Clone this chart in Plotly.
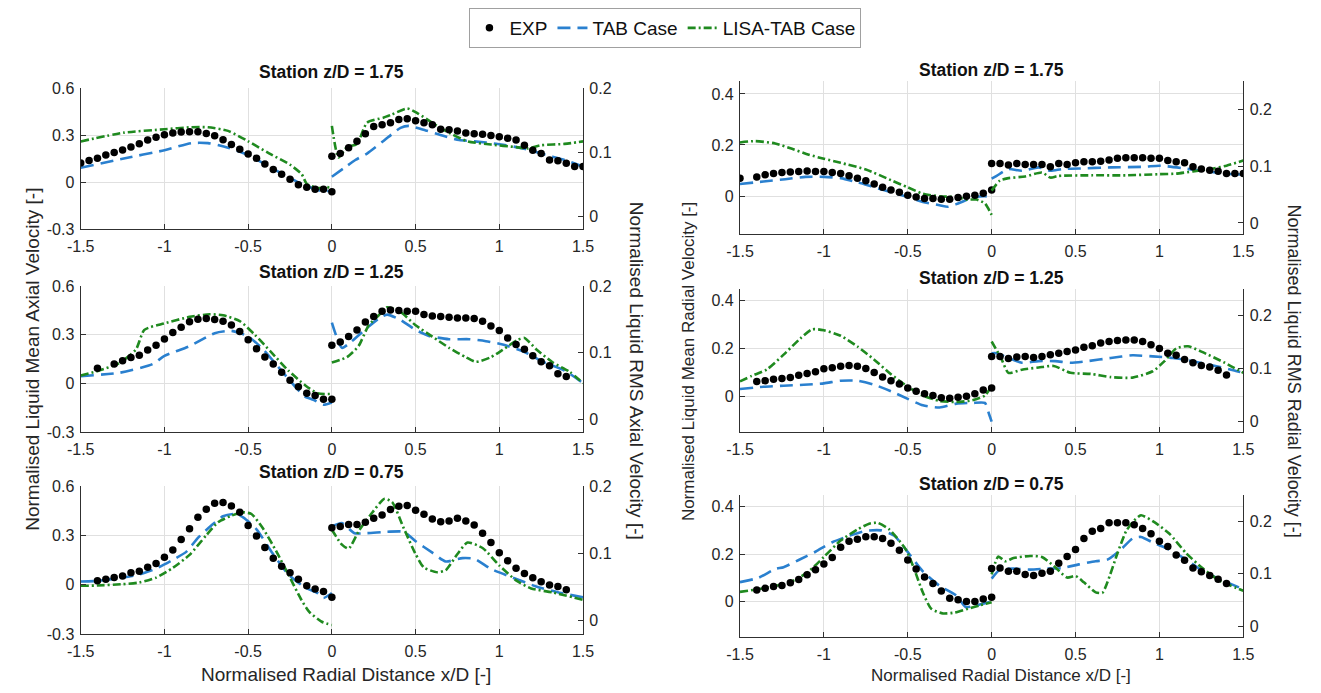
import numpy as np
import plotly.graph_objects as go

W, H = 1321, 693

# ---------------- DATA ----------------
def srange(a, b, n):
    return [round(a + i * 0.05, 2) for i in range(n)]

# Panel A: axial, z/D = 1.75
A_exp_mean_x = srange(-1.5, 0, 31)
A_exp_mean_y = [0.122, 0.139, 0.153, 0.173, 0.189, 0.206, 0.224, 0.245, 0.269, 0.286, 0.302, 0.314, 0.320, 0.322, 0.322, 0.310,
                0.296, 0.271, 0.241, 0.210, 0.180, 0.153, 0.116, 0.082, 0.051, 0.020, -0.016, -0.031, -0.045, -0.045, -0.061]
A_tab_mean_x = [-1.5, -1.25, -1.0, -0.84, -0.74, -0.62, -0.5, -0.375, -0.275, -0.18, -0.08, 0.0]
A_tab_mean_y = [0.092, 0.15, 0.204, 0.249, 0.249, 0.22, 0.173, 0.10, 0.041, -0.01, -0.05, -0.057]
A_lisa_mean_x = [-1.5, -1.24, -1.0, -0.84, -0.74, -0.62, -0.5, -0.375, -0.25, -0.18, -0.15, -0.08, -0.03, 0.0]
A_lisa_mean_y = [0.26, 0.316, 0.337, 0.35, 0.35, 0.327, 0.261, 0.184, 0.112, 0.051, -0.01, -0.037, -0.03, -0.045]
A_exp_rms_x = srange(0, 1.5, 31)
A_exp_rms_y = [0.094, 0.098, 0.107, 0.117, 0.129, 0.140, 0.143, 0.146, 0.151, 0.152, 0.149, 0.146, 0.143, 0.136, 0.135, 0.133,
               0.130, 0.129, 0.128, 0.126, 0.124, 0.122, 0.119, 0.111, 0.103, 0.098, 0.088, 0.087, 0.083, 0.078, 0.078]
A_tab_rms_x = [0, 0.07, 0.14, 0.21, 0.31, 0.41, 0.46, 0.56, 0.66, 0.76, 0.85, 0.99, 1.14, 1.29, 1.39, 1.5]
A_tab_rms_y = [0.062, 0.075, 0.088, 0.098, 0.118, 0.138, 0.141, 0.134, 0.126, 0.119, 0.117, 0.113, 0.106, 0.095, 0.088, 0.078]
A_lisa_rms_x = [0, 0.04, 0.09, 0.15, 0.21, 0.31, 0.36, 0.45, 0.51, 0.61, 0.71, 0.81, 0.95, 1.1, 1.17, 1.25, 1.39, 1.5]
A_lisa_rms_y = [0.141, 0.092, 0.108, 0.113, 0.146, 0.154, 0.159, 0.168, 0.161, 0.144, 0.129, 0.117, 0.112, 0.108, 0.106, 0.111, 0.113, 0.117]

# Panel B: axial, z/D = 1.25
B_exp_mean_x = [-1.4] + srange(-1.3, 0, 27)
B_exp_mean_y = [0.094, 0.12, 0.14, 0.16, 0.174, 0.206, 0.236, 0.274, 0.314, 0.346, 0.38, 0.396, 0.40, 0.394, 0.384, 0.36,
                0.32, 0.27, 0.214, 0.164, 0.12, 0.07, 0.02, -0.02, -0.06, -0.074, -0.096, -0.096]
B_tab_mean_x = [-1.5, -1.27, -1.07, -1.0, -0.85, -0.7, -0.6, -0.5, -0.41, -0.31, -0.21, -0.16, -0.11, -0.05, 0]
B_tab_mean_y = [0.046, 0.066, 0.12, 0.17, 0.23, 0.31, 0.324, 0.29, 0.21, 0.09, -0.03, -0.08, -0.10, -0.13, -0.116]
B_lisa_mean_x = [-1.5, -1.39, -1.27, -1.17, -1.12, -1.0, -0.85, -0.73, -0.65, -0.55, -0.46, -0.36, -0.26, -0.16, -0.085, 0]
B_lisa_mean_y = [0.05, 0.08, 0.126, 0.21, 0.33, 0.37, 0.41, 0.426, 0.42, 0.384, 0.30, 0.19, 0.08, -0.01, -0.06, -0.064]
B_exp_rms_x = srange(0, 1.4, 29)
B_exp_rms_y = [0.111, 0.116, 0.124, 0.134, 0.146, 0.154, 0.162, 0.164, 0.163, 0.162, 0.162, 0.157, 0.155, 0.154, 0.153,
               0.152, 0.152, 0.151, 0.147, 0.140, 0.133, 0.122, 0.112, 0.105, 0.095, 0.086, 0.080, 0.068, 0.064]
B_tab_rms_x = [0, 0.06, 0.11, 0.21, 0.28, 0.33, 0.41, 0.5, 0.58, 0.70, 0.82, 0.92, 1.02, 1.14, 1.27, 1.39, 1.5]
B_tab_rms_y = [0.145, 0.107, 0.115, 0.137, 0.151, 0.157, 0.149, 0.134, 0.125, 0.12, 0.12, 0.117, 0.112, 0.102, 0.085, 0.073, 0.054]
B_lisa_rms_x = [0, 0.09, 0.16, 0.22, 0.28, 0.33, 0.41, 0.5, 0.6, 0.70, 0.8, 0.86, 0.95, 1.02, 1.11, 1.15, 1.22, 1.32, 1.42, 1.5]
B_lisa_rms_y = [0.085, 0.093, 0.11, 0.141, 0.156, 0.168, 0.161, 0.141, 0.124, 0.107, 0.093, 0.086, 0.093, 0.104, 0.119, 0.122,
                0.105, 0.085, 0.071, 0.054]

# Panel C: axial, z/D = 0.75
C_exp_mean_x = srange(-1.4, 0, 29)
C_exp_mean_y = [0.024, 0.034, 0.044, 0.053, 0.073, 0.083, 0.107, 0.129, 0.168, 0.212, 0.275, 0.34, 0.41, 0.459, 0.495, 0.499,
                0.479, 0.44, 0.36, 0.297, 0.226, 0.162, 0.113, 0.073, 0.034, -0.006, -0.026, -0.04, -0.075]
C_tab_mean_x = [-1.5, -1.4, -1.25, -1.15, -1.05, -0.95, -0.87, -0.8, -0.72, -0.65, -0.58, -0.53, -0.45, -0.36, -0.26, -0.16,
                -0.085, -0.05, 0]
C_tab_mean_y = [0.02, 0.024, 0.044, 0.063, 0.099, 0.152, 0.2, 0.285, 0.36, 0.416, 0.43, 0.41, 0.337, 0.2, 0.063, -0.016,
                -0.05, -0.08, -0.05]
C_lisa_mean_x = [-1.5, -1.4, -1.25, -1.15, -1.05, -0.95, -0.85, -0.75, -0.68, -0.6, -0.53, -0.48, -0.41, -0.33, -0.26, -0.18,
                 -0.135, -0.06, 0]
C_lisa_mean_y = [-0.006, -0.004, 0.004, 0.014, 0.044, 0.103, 0.182, 0.301, 0.38, 0.42, 0.44, 0.43, 0.34, 0.2, 0.063, -0.095,
                 -0.164, -0.224, -0.244]
C_exp_rms_x = srange(0, 1.4, 29)
C_exp_rms_y = [0.138, 0.140, 0.143, 0.143, 0.146, 0.152, 0.157, 0.165, 0.170, 0.171, 0.164, 0.158, 0.151, 0.147, 0.148,
               0.152, 0.148, 0.142, 0.130, 0.116, 0.101, 0.089, 0.078, 0.070, 0.064, 0.058, 0.053, 0.051, 0.046]
C_tab_rms_x = [0, 0.06, 0.135, 0.21, 0.33, 0.43, 0.5, 0.6, 0.68, 0.78, 0.85, 0.95, 1.07, 1.22, 1.37, 1.5]
C_tab_rms_y = [0.14, 0.145, 0.130, 0.130, 0.132, 0.132, 0.118, 0.101, 0.088, 0.093, 0.092, 0.077, 0.065, 0.051, 0.041, 0.035]
C_lisa_rms_x = [0, 0.06, 0.1, 0.16, 0.23, 0.315, 0.36, 0.43, 0.5, 0.55, 0.63, 0.68, 0.75, 0.81, 0.9, 1.0, 1.1, 1.19, 1.32, 1.5]
C_lisa_rms_y = [0.135, 0.113, 0.107, 0.133, 0.157, 0.181, 0.176, 0.137, 0.099, 0.079, 0.072, 0.075, 0.099, 0.116, 0.108,
                0.082, 0.060, 0.048, 0.042, 0.031]

# Panel D: radial, z/D = 1.75
D_exp_mean_x = [-1.5] + srange(-1.4, 0, 29)
D_exp_mean_y = [0.070, 0.075, 0.083, 0.088, 0.092, 0.094, 0.096, 0.098, 0.096, 0.096, 0.092, 0.088, 0.079, 0.070, 0.060,
                0.047, 0.034, 0.024, 0.015, 0.003, -0.004, -0.010, -0.010, -0.013, -0.013, -0.006, -0.001, 0.003, 0.011, 0.024]
D_tab_mean_x = [-1.5, -1.36, -1.23, -1.11, -1.0, -0.9, -0.8, -0.7, -0.6, -0.5, -0.41, -0.31, -0.26, -0.2, -0.11, -0.04, 0]
D_tab_mean_y = [0.047, 0.057, 0.066, 0.075, 0.075, 0.07, 0.054, 0.034, 0.015, -0.004, -0.023, -0.036, -0.042, -0.029,
                -0.006, -0.001, -0.004]
D_lisa_mean_x = [-1.5, -1.41, -1.29, -1.19, -1.09, -1.0, -0.9, -0.75, -0.6, -0.5, -0.41, -0.31, -0.21, -0.15, -0.09, -0.04, 0]
D_lisa_mean_y = [0.21, 0.215, 0.206, 0.185, 0.162, 0.146, 0.13, 0.104, 0.062, 0.034, 0.009, -0.001, -0.004, -0.014, -0.014,
                 -0.029, -0.074]
D_exp_rms_x = srange(0, 1.5, 31)
D_exp_rms_y = [0.105, 0.105, 0.102, 0.105, 0.103, 0.103, 0.103, 0.099, 0.105, 0.103, 0.106, 0.108, 0.108, 0.109, 0.111,
               0.114, 0.115, 0.115, 0.115, 0.114, 0.114, 0.110, 0.108, 0.106, 0.099, 0.095, 0.093, 0.091, 0.087, 0.087, 0.087]
D_tab_rms_x = [0, 0.03, 0.1, 0.18, 0.28, 0.35, 0.42, 0.52, 0.71, 0.91, 1.0, 1.15, 1.25, 1.4, 1.5]
D_tab_rms_y = [0.078, 0.083, 0.095, 0.092, 0.098, 0.092, 0.095, 0.096, 0.098, 0.099, 0.101, 0.096, 0.092, 0.087, 0.085]
D_lisa_rms_x = [0, 0.05, 0.1, 0.2, 0.3, 0.35, 0.4, 0.6, 0.8, 1.0, 1.1, 1.2, 1.3, 1.4, 1.5]
D_lisa_rms_y = [0.057, 0.075, 0.079, 0.082, 0.089, 0.080, 0.083, 0.084, 0.084, 0.086, 0.087, 0.091, 0.095, 0.101, 0.110]

# Panel E: radial, z/D = 1.25
E_exp_mean_x = srange(-1.4, 0, 29)
E_exp_mean_y = [0.063, 0.066, 0.072, 0.075, 0.079, 0.089, 0.096, 0.104, 0.116, 0.12, 0.127, 0.13, 0.127, 0.117, 0.10, 0.082,
                0.066, 0.052, 0.035, 0.022, 0.011, 0.004, -0.005, -0.007, -0.003, 0.001, 0.011, 0.027, 0.035]
E_tab_mean_x = [-1.5, -1.36, -1.24, -1.12, -1.0, -0.9, -0.8, -0.7, -0.6, -0.5, -0.41, -0.31, -0.21, -0.115, -0.04, -0.017, 0]
E_tab_mean_y = [0.031, 0.041, 0.045, 0.049, 0.055, 0.066, 0.066, 0.049, 0.022, -0.01, -0.037, -0.046, -0.03, -0.027,
                -0.027, -0.07, -0.105]
E_lisa_mean_x = [-1.5, -1.43, -1.34, -1.24, -1.14, -1.07, -1.0, -0.9, -0.8, -0.7, -0.6, -0.5, -0.41, -0.31, -0.21, -0.115,
                 -0.04, 0]
E_lisa_mean_y = [0.063, 0.086, 0.113, 0.175, 0.243, 0.281, 0.277, 0.254, 0.209, 0.154, 0.093, 0.041, 0.004, -0.019, -0.023,
                 -0.016, 0.004, 0.045]
E_exp_rms_x = srange(0, 1.4, 29)
E_exp_rms_y = [0.123, 0.123, 0.119, 0.122, 0.123, 0.121, 0.123, 0.126, 0.129, 0.132, 0.135, 0.140, 0.143, 0.148, 0.151,
               0.153, 0.154, 0.154, 0.151, 0.145, 0.138, 0.129, 0.125, 0.117, 0.111, 0.106, 0.103, 0.097, 0.088]
E_tab_rms_x = [0, 0.03, 0.1, 0.18, 0.28, 0.38, 0.47, 0.57, 0.71, 0.84, 0.96, 1.08, 1.2, 1.32, 1.44, 1.5]
E_tab_rms_y = [0.129, 0.129, 0.12, 0.111, 0.114, 0.114, 0.111, 0.114, 0.12, 0.125, 0.123, 0.12, 0.114, 0.106, 0.097, 0.092]
E_lisa_rms_x = [0, 0.056, 0.1, 0.18, 0.28, 0.37, 0.47, 0.59, 0.71, 0.84, 0.96, 1.03, 1.1, 1.17, 1.25, 1.39, 1.5]
E_lisa_rms_y = [0.151, 0.12, 0.092, 0.098, 0.102, 0.105, 0.092, 0.09, 0.084, 0.083, 0.095, 0.114, 0.138, 0.142, 0.132,
                0.111, 0.092]

# Panel F: radial, z/D = 0.75
F_exp_mean_x = srange(-1.4, 0, 29)
F_exp_mean_y = [0.049, 0.056, 0.063, 0.068, 0.079, 0.093, 0.113, 0.134, 0.158, 0.186, 0.229, 0.254, 0.263, 0.273, 0.273,
                0.266, 0.246, 0.216, 0.175, 0.137, 0.104, 0.076, 0.045, 0.014, 0.008, 0.0, 0.0, 0.011, 0.018]
F_tab_mean_x = [-1.5, -1.39, -1.29, -1.24, -1.15, -1.05, -0.95, -0.85, -0.75, -0.66, -0.58, -0.51, -0.41, -0.31, -0.21,
                -0.155, -0.09, 0]
F_tab_mean_y = [0.082, 0.10, 0.137, 0.145, 0.175, 0.21, 0.25, 0.277, 0.298, 0.30, 0.277, 0.218, 0.127, 0.066, 0.025,
                -0.023, -0.016, 0.0]
F_lisa_mean_x = [-1.5, -1.39, -1.29, -1.19, -1.09, -1.0, -0.9, -0.8, -0.73, -0.68, -0.61, -0.51, -0.46, -0.41, -0.36, -0.29,
                 -0.22, -0.14, -0.07, 0]
F_lisa_mean_y = [0.041, 0.052, 0.066, 0.086, 0.127, 0.188, 0.257, 0.304, 0.328, 0.332, 0.304, 0.218, 0.134, 0.038, -0.03,
                 -0.05, -0.046, -0.03, -0.016, -0.003]
F_exp_rms_x = srange(0, 1.4, 29)
F_exp_rms_y = [0.110, 0.111, 0.105, 0.105, 0.099, 0.097, 0.101, 0.105, 0.120, 0.133, 0.146, 0.167, 0.181, 0.186, 0.197,
               0.197, 0.197, 0.193, 0.186, 0.176, 0.162, 0.152, 0.136, 0.126, 0.111, 0.104, 0.097, 0.09, 0.082]
F_tab_rms_x = [0, 0.05, 0.13, 0.23, 0.33, 0.42, 0.52, 0.62, 0.69, 0.77, 0.84, 0.89, 0.97, 1.06, 1.16, 1.26, 1.36, 1.5]
F_tab_rms_y = [0.091, 0.108, 0.11, 0.108, 0.11, 0.111, 0.118, 0.124, 0.127, 0.146, 0.167, 0.17, 0.158, 0.146, 0.127, 0.105,
               0.09, 0.071]
F_lisa_rms_x = [0, 0.04, 0.08, 0.13, 0.23, 0.30, 0.37, 0.45, 0.5, 0.55, 0.62, 0.66, 0.69, 0.75, 0.8, 0.84, 0.89, 0.97, 1.06,
                1.16, 1.26, 1.36, 1.5]
F_lisa_rms_y = [0.099, 0.133, 0.124, 0.13, 0.134, 0.132, 0.115, 0.093, 0.096, 0.084, 0.065, 0.064, 0.084, 0.139, 0.18, 0.198,
                0.211, 0.198, 0.176, 0.139, 0.11, 0.087, 0.068]

titles = ["Station z/D = 1.75", "Station z/D = 1.25", "Station z/D = 0.75"]
x_ticks = [-1.5, -1, -0.5, 0, 0.5, 1, 1.5]
x_ticklabels = ["-1.5", "-1", "-0.5", "0", "0.5", "1", "1.5"]
axial_mean_ticks = [-0.3, 0, 0.3, 0.6]
axial_rms_ticks = [0, 0.1, 0.2]
radial_mean_ticks = [0, 0.2, 0.4]
radial_rms_ticks = [0, 0.1, 0.2]

# ---------------- STYLE / LAYOUT ----------------
FONT = "Liberation Sans, Arial, sans-serif"
TXT = "#262626"
BLUE = "#2a80cf"
GREEN = "#1f8a1f"
GRID = "#e0e0e0"
AX = "#303030"

panels = [
    dict(d="A", x=(68, 580), y=(82, 227), yl=[-0.3, 0.6], yr=[-0.02, 0.2], lt=axial_mean_ticks, rt=axial_rms_ticks, t=titles[0], ty=66),
    dict(d="B", x=(68, 580), y=(285, 435), yl=[-0.3, 0.6], yr=[-0.02, 0.2], lt=axial_mean_ticks, rt=axial_rms_ticks, t=titles[1], ty=271),
    dict(d="C", x=(68, 580), y=(490, 642), yl=[-0.3, 0.6], yr=[-0.02, 0.2], lt=axial_mean_ticks, rt=axial_rms_ticks, t=titles[2], ty=476),
    dict(d="D", x=(740, 1253), y=(75, 232), yl=[-0.15, 0.45], yr=[-0.02, 0.25], lt=radial_mean_ticks, rt=radial_rms_ticks, t=titles[0], ty=64),
    dict(d="E", x=(740, 1253), y=(288, 435), yl=[-0.15, 0.45], yr=[-0.02, 0.25], lt=radial_mean_ticks, rt=radial_rms_ticks, t=titles[1], ty=277),
    dict(d="F", x=(740, 1253), y=(499, 645), yl=[-0.15, 0.45], yr=[-0.02, 0.25], lt=radial_mean_ticks, rt=radial_rms_ticks, t=titles[2], ty=488),
]

data = globals()
fig = go.Figure()
layout = {}
annotations = []

for i, p in enumerate(panels, start=1):
    xa = "x" if i == 1 else f"x{i}"
    yl_id = 2 * i - 1
    yr_id = 2 * i
    ya_l = "y" if yl_id == 1 else f"y{yl_id}"
    ya_r = f"y{yr_id}"
    xd = [p["x"][0] / W, p["x"][1] / W]
    yd = [1 - p["y"][1] / H, 1 - p["y"][0] / H]
    tickfont = dict(family=FONT, size=16, color=TXT)
    layout["xaxis" if i == 1 else f"xaxis{i}"] = dict(
        domain=xd, anchor=ya_l, range=[-1.5, 1.5], tickvals=x_ticks, ticktext=x_ticklabels,
        showgrid=True, gridcolor=GRID, gridwidth=1, zeroline=False, showline=True, linecolor=AX, linewidth=1.3,
        ticks="inside", ticklen=5, tickcolor=AX, tickfont=tickfont, mirror=False, ticklabelstandoff=2)
    layout["yaxis" if yl_id == 1 else f"yaxis{yl_id}"] = dict(
        domain=yd, anchor=xa, range=p["yl"], tickvals=p["lt"], ticktext=["%g" % v for v in p["lt"]],
        showgrid=True, gridcolor=GRID, gridwidth=1, zeroline=False, showline=True, linecolor=AX, linewidth=1.3,
        ticks="inside", ticklen=5, tickcolor=AX, tickfont=tickfont, side="left", ticklabelstandoff=2)
    layout[f"yaxis{yr_id}"] = dict(
        domain=yd, anchor=xa, overlaying=ya_l, range=p["yr"], tickvals=p["rt"], ticktext=["%g" % v for v in p["rt"]],
        showgrid=False, zeroline=False, showline=True, linecolor=AX, linewidth=1.3,
        ticks="inside", ticklen=5, tickcolor=AX, tickfont=tickfont, side="right", ticklabelstandoff=2)

    d = p["d"]
    first = (i == 1)
    for side, yaxis in (("mean", ya_l), ("rms", ya_r)):
        fig.add_trace(go.Scatter(
            x=data[f"{d}_tab_{side}_x"], y=data[f"{d}_tab_{side}_y"], xaxis=xa, yaxis=yaxis, mode="lines",
            line=dict(color=BLUE, width=2.6, dash="13px,7px", shape="spline", smoothing=0.6),
            name="TAB Case", legendgroup="tab", showlegend=first and side == "mean", legendrank=2))
        fig.add_trace(go.Scatter(
            x=data[f"{d}_lisa_{side}_x"], y=data[f"{d}_lisa_{side}_y"], xaxis=xa, yaxis=yaxis, mode="lines",
            line=dict(color=GREEN, width=2.6, dash="8px,3px,2px,3px", shape="spline", smoothing=0.6),
            name="LISA-TAB Case", legendgroup="lisa", showlegend=first and side == "mean", legendrank=3))
        fig.add_trace(go.Scatter(
            x=data[f"{d}_exp_{side}_x"], y=data[f"{d}_exp_{side}_y"], xaxis=xa, yaxis=yaxis, mode="markers",
            marker=dict(color="black", size=7.5, symbol="circle"),
            name="EXP", legendgroup="exp", showlegend=first and side == "mean", legendrank=1))

    annotations.append(dict(text=f"<b>{p['t']}</b>", x=(p["x"][0] + p["x"][1]) / 2 / W, y=1 - p["ty"] / H,
                            xref="paper", yref="paper", showarrow=False, xanchor="center", yanchor="middle",
                            font=dict(family=FONT, size=17.5, color="#111")))

labels = [
    dict(text="Normalised Liquid Mean Axial Velocity [-]", x=19 / W, y=1 - 360 / H, textangle=-90, s=19),
    dict(text="Normalised Liquid RMS Axial Velocity [-]", x=634 / W, y=1 - 372 / H, textangle=90, s=19),
    dict(text="Normalised Liquid Mean Radial Velocity [-]", x=687 / W, y=1 - 362 / H, textangle=-90, s=17),
    dict(text="Normalised Liquid RMS Radial Velocity [-]", x=1305 / W, y=1 - 372 / H, textangle=90, s=18),
    dict(text="Normalised Radial Distance x/D [-]", x=338 / W, y=1 - 683 / H, textangle=0, s=19),
    dict(text="Normalised Radial Distance x/D [-]", x=1006 / W, y=1 - 684 / H, textangle=0, s=17),
]
for lb in labels:
    s = lb.pop("s")
    lb.update(xref="paper", yref="paper", showarrow=False, xanchor="center", yanchor="middle",
              font=dict(family=FONT, size=s, color=TXT))
    annotations.append(lb)

fig.update_layout(
    width=W, height=H, margin=dict(l=0, r=0, t=0, b=0),
    paper_bgcolor="white", plot_bgcolor="white",
    font=dict(family=FONT, color=TXT),
    showlegend=True,
    legend=dict(orientation="h", x=664 / W, xanchor="center", y=1.0, yanchor="top",
                bordercolor="#a0a0a0", borderwidth=1, bgcolor="white",
                font=dict(family=FONT, size=19, color="#111"), itemwidth=30, tracegroupgap=0),
    annotations=annotations,
    **layout,
)

fig.write_html("out.html")
